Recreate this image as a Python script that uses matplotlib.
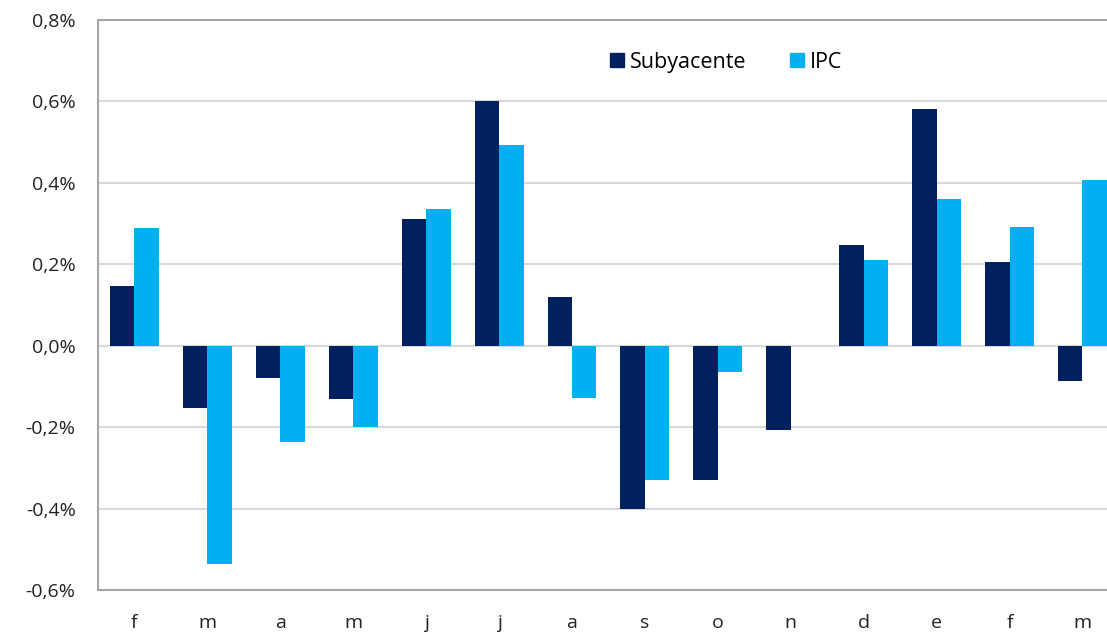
import numpy as np
import matplotlib.pyplot as plt
from matplotlib.patches import Patch
from matplotlib.ticker import FuncFormatter

plt.rcParams['font.family'] = ['Open Sans', 'DejaVu Sans']

meses = ['f', 'm', 'a', 'm', 'j', 'j', 'a', 's', 'o', 'n', 'd', 'e', 'f', 'm']
subyacente = [0.147, -0.152, -0.079, -0.130, 0.312, 0.600, 0.120, -0.400,
              -0.331, -0.206, 0.248, 0.582, 0.206, -0.086]
ipc = [0.290, -0.537, -0.236, -0.199, 0.336, 0.493, -0.128, -0.331,
       -0.064, 0.0, 0.211, 0.361, 0.292, 0.407]

c_sub = '#002060'
c_ipc = '#00B0F0'

fig = plt.figure(figsize=(11.07, 6.33), dpi=100)
ax = fig.add_axes([0.0885, 0.068, 0.9223, 0.9005])

x = np.arange(len(meses))
w = 0.335
ax.bar(x - w/2, subyacente, w, color=c_sub, zorder=3)
ax.bar(x + w/2, ipc, w, color=c_ipc, zorder=3)

ax.set_xlim(-0.5, len(meses) - 0.5)
ax.set_ylim(-0.6, 0.8)
ax.set_yticks(np.arange(-0.6, 0.81, 0.2))
ax.yaxis.set_major_formatter(FuncFormatter(lambda v, p: ('%.1f%%' % v).replace('.', ',').replace('-0,0', '0,0')))
ax.set_xticks(x)
ax.set_xticklabels(meses)
ax.tick_params(axis='both', length=0, labelsize=14, colors='#222222')
ax.tick_params(axis='y', pad=16)
ax.tick_params(axis='x', pad=17)

ax.grid(axis='y', color='#d9d9d9', linewidth=1.5, zorder=0)
ax.set_axisbelow(True)
for s in ['left', 'bottom', 'top']:
    ax.spines[s].set_color('#a6a6a6')
    ax.spines[s].set_linewidth(1.5)
ax.spines['right'].set_visible(False)

handles = [Patch(color=c_sub, label='Subyacente'), Patch(color=c_ipc, label='IPC')]
fig.legend(handles=handles, loc='center', bbox_to_anchor=(0.656, 0.902), ncol=2,
           frameon=False, fontsize=15.5, handlelength=0.65, handleheight=0.65,
           handletextpad=0.3, columnspacing=2.0)

fig.savefig('out.png', dpi=100)
